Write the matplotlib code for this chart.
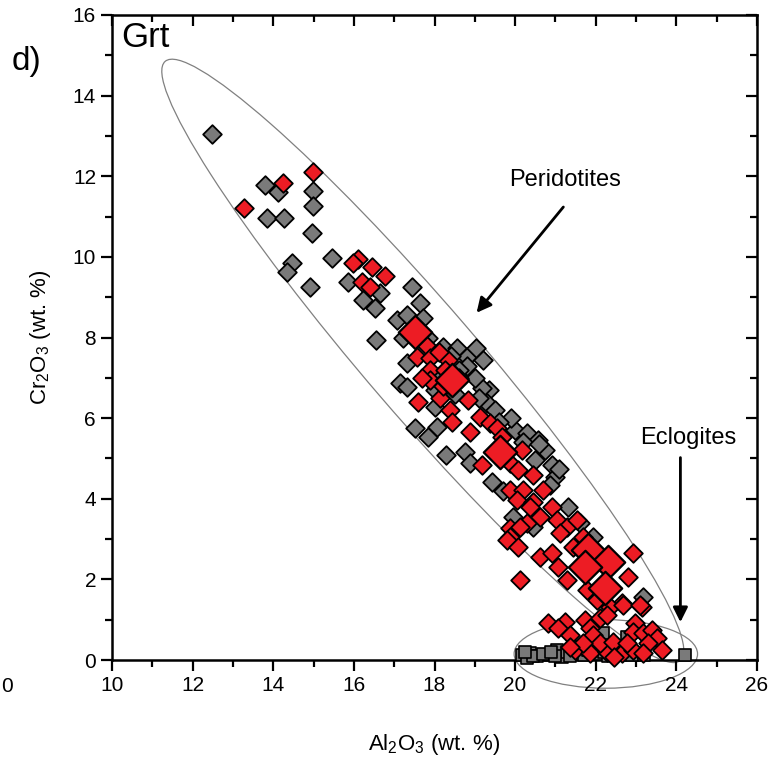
import numpy as np
import matplotlib
matplotlib.use("Agg")
import matplotlib.pyplot as plt
from matplotlib.patches import Ellipse

plt.rcParams['font.family'] = ['Liberation Sans', 'DejaVu Sans']
plt.rcParams['mathtext.default'] = 'regular'

# peridotite garnets (grey diamonds)
grey_al = [12.48, 13.80, 14.12, 14.99, 14.99, 13.85, 14.27, 14.96, 15.46, 14.47, 14.34, 14.91,
           15.86, 16.65, 16.23, 16.53, 17.07, 16.55,
           17.44, 17.64, 17.32, 17.72, 17.22, 17.85, 18.20, 18.55, 18.80, 17.32, 18.80, 17.15,
           17.32, 18.00, 19.03, 19.20, 19.35, 18.15,
           19.18, 18.01, 18.06, 19.30, 17.52, 17.84, 18.29, 18.76, 18.88, 19.43, 20.00, 20.30,
           20.57, 20.74, 20.50, 20.92, 20.99, 20.87, 19.95, 20.45, 21.30, 21.94, 23.17, 19.70,
           20.20, 19.90, 18.40, 18.60, 19.00, 19.10, 18.50, 19.50, 20.60, 21.10, 19.60, 21.60]
grey_cr = [13.05, 11.79, 11.61, 11.64, 11.27, 10.97, 10.97, 10.60, 9.98, 9.85, 9.63, 9.26,
           9.38, 9.10, 8.93, 8.73, 8.44, 7.94,
           9.26, 8.86, 8.56, 8.49, 8.00, 8.00, 7.77, 7.74, 7.52, 7.37, 7.30, 6.87,
           6.77, 6.70, 7.74, 7.44, 6.70, 7.10,
           6.75, 6.28, 5.78, 6.38, 5.76, 5.53, 5.09, 5.16, 4.89, 4.42, 5.71, 5.63,
           5.46, 5.21, 4.96, 4.84, 4.54, 4.34, 3.55, 3.30, 3.80, 3.05, 1.56, 4.20,
           5.40, 6.00, 7.55, 7.20, 7.00, 6.50, 6.60, 6.20, 5.35, 4.75, 5.90, 3.40]

# eclogite garnets (grey squares)
ecl_al = [20.17, 20.37, 20.55, 20.87, 21.17, 21.04, 21.29, 21.61, 21.45, 22.18, 21.90,
          22.78, 22.50, 22.00, 22.90, 23.20, 24.22, 20.30, 20.45, 20.70, 21.00, 21.35,
          21.70, 22.30, 22.60, 21.80, 20.25, 20.90, 22.20]
ecl_cr = [0.12, 0.17, 0.10, 0.12, 0.07, 0.25, 0.20, 0.32, 0.15, 0.67, 0.45,
          0.57, 0.30, 0.15, 0.12, 0.12, 0.12, 0.05, 0.10, 0.15, 0.10, 0.10,
          0.12, 0.10, 0.12, 0.25, 0.20, 0.20, 0.20]

# inclusion garnets (red diamonds)
red_al = [14.24, 14.99, 13.28,
          16.10, 15.98, 16.45, 16.77, 16.20, 16.40,
          17.80, 17.56, 17.90, 18.33, 17.90, 18.25, 17.90, 17.60,
          18.14, 18.39, 18.83, 18.44, 19.13, 19.38, 19.55, 18.88, 19.68, 20.17, 19.18, 19.88,
          20.07, 20.45, 19.88, 20.20, 20.70, 20.05, 20.45, 20.92, 19.88, 20.30, 20.62, 21.04,
          21.29, 21.54, 19.88,
          19.80, 20.07, 20.12, 20.37, 21.12, 21.69, 21.44, 20.62, 20.92, 21.07, 22.93, 22.80,
          21.29, 20.12, 21.79, 22.03, 22.66, 23.15, 22.36,
          20.82, 21.24, 21.07, 21.36, 21.74, 21.86, 21.94, 22.11, 22.28, 22.68, 23.10, 22.98,
          22.93, 23.18, 23.40, 23.52, 23.30, 23.65, 21.49, 21.86, 22.28, 22.66, 22.93, 23.18,
          22.11, 22.43, 22.78, 21.69, 21.36, 22.45,
          18.10, 18.60, 17.70, 18.20]
red_cr = [11.84, 12.11, 11.22,
          9.95, 9.85, 9.75, 9.53, 9.38, 9.25,
          7.82, 7.52, 7.50, 7.45, 7.20, 7.20, 6.95, 6.40,
          6.50, 6.20, 6.45, 5.91, 6.03, 5.88, 5.76, 5.66, 5.53, 5.21, 4.84, 4.89,
          4.71, 4.59, 4.22, 4.22, 4.22, 3.97, 3.92, 3.80, 3.28, 3.40, 3.55, 3.47,
          3.30, 3.47, 3.05,
          2.98, 2.80, 3.30, 3.80, 3.15, 3.05, 2.80, 2.56, 2.65, 2.31, 2.65, 2.06,
          1.99, 1.99, 1.74, 1.49, 1.41, 1.32, 1.32,
          0.92, 0.94, 0.79, 0.62, 0.99, 0.79, 0.62, 1.04, 1.12, 1.36, 1.36, 0.92,
          0.69, 0.67, 0.74, 0.55, 0.42, 0.25, 0.25, 0.17, 0.20, 0.17, 0.25, 0.17,
          0.42, 0.45, 0.42, 0.42, 0.32, 0.08,
          7.65, 7.00, 7.00, 6.80]

# large red diamonds
big_al = [17.52, 18.44, 19.63, 21.81, 22.31, 21.74, 22.23]
big_cr = [8.14, 6.95, 5.16, 2.73, 2.43, 2.31, 1.79]

RED = '#ed1c24'
GREY = '#7a7a7a'

fig = plt.figure(figsize=(7.72, 7.65), dpi=100)
pos = [112 / 772, 1 - 660 / 765, 645 / 772, 645 / 765]
ax = fig.add_axes(pos)

# outline ellipses
ax.add_patch(Ellipse((17.71, 7.42), 19.6, 2.75, angle=-49.3, fill=False,
                     edgecolor='#808080', lw=0.9, clip_on=False))
ax.add_patch(Ellipse((22.25, 0.15), 4.55, 1.7, angle=0, fill=False,
                     edgecolor='#808080', lw=0.9, clip_on=False))

ax.scatter(grey_al, grey_cr, s=90, marker='D', c=GREY, edgecolors='black',
           linewidths=1.3, clip_on=False, zorder=3)
ax.scatter(ecl_al, ecl_cr, s=80, marker='s', c=GREY, edgecolors='black',
           linewidths=1.2, clip_on=False, zorder=3)
ax.scatter(red_al, red_cr, s=90, marker='D', c=RED, edgecolors='black',
           linewidths=1.3, clip_on=False, zorder=4)
ax.scatter(big_al, big_cr, s=290, marker='D', c=RED, edgecolors='black',
           linewidths=1.6, clip_on=False, zorder=5)

# arrows and labels
ax.annotate('', xy=(19.0, 8.56), xytext=(21.24, 11.29),
            arrowprops=dict(arrowstyle='-|>', lw=2, color='black', mutation_scale=22))
ax.annotate('', xy=(24.1, 0.87), xytext=(24.1, 5.09),
            arrowprops=dict(arrowstyle='-|>', lw=2, color='black', mutation_scale=22))
ax.text(21.24, 11.9, 'Peridotites', fontsize=17, ha='center', va='center')
ax.text(24.29, 5.51, 'Eclogites', fontsize=17, ha='center', va='center')
ax.text(0.015, 0.99, 'Grt', fontsize=25, ha='left', va='top', transform=ax.transAxes)

xmaj = np.arange(10, 27, 2)
ymaj = np.arange(0, 17, 2)
xmin = np.arange(10, 27, 1)
ymin = np.arange(0, 17, 1)

ax.set_xlim(10, 26)
ax.set_ylim(0, 16)
ax.set_xticks(xmaj)
ax.set_yticks(ymaj)
ax.set_xticks(xmin, minor=True)
ax.set_yticks(ymin, minor=True)
ax.tick_params(which='both', labelsize=15, width=1.6, direction='out')
ax.tick_params(which='major', length=8)
ax.tick_params(which='minor', length=5)
for sp in ax.spines.values():
    sp.set_linewidth(1.8)

# top and right ticks point inward
ax2 = fig.add_axes(pos, frameon=False)
ax2.set_xlim(10, 26)
ax2.set_ylim(0, 16)
ax2.set_xticks(xmaj)
ax2.set_yticks(ymaj)
ax2.set_xticks(xmin, minor=True)
ax2.set_yticks(ymin, minor=True)
ax2.tick_params(which='both', direction='in', width=1.6, top=True, right=True,
                bottom=False, left=False, labelbottom=False, labelleft=False)
ax2.tick_params(which='major', length=8)
ax2.tick_params(which='minor', length=5)
ax2.patch.set_visible(False)

ax.set_xlabel(r'Al$_2$O$_3$ (wt. %)', fontsize=16, labelpad=27)
ax.set_ylabel(r'Cr$_2$O$_3$ (wt. %)', fontsize=16, labelpad=14)

fig.text(12 / 772, 1 - 70 / 765, 'd)', fontsize=24, ha='left', va='baseline')
fig.text(0.001, 1 - 686 / 765, '0', fontsize=15, ha='left', va='center')

fig.savefig('out.png', dpi=100)
